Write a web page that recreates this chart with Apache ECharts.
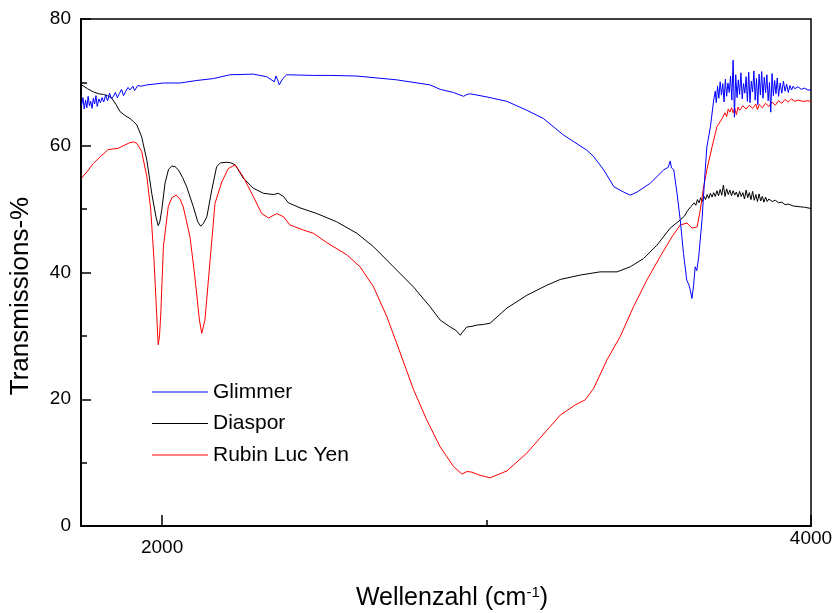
<!DOCTYPE html>
<html>
<head>
<meta charset="utf-8">
<script src="https://cdn.jsdelivr.net/npm/echarts@6/dist/echarts.min.js"></script>
<style>
html,body{margin:0;padding:0;background:#fff;}
#chart{width:834px;height:613px;}
</style>
</head>
<body>
<div id="chart"></div>
<script>
// ---- Data (wavenumber in cm^-1, transmission in %) ----
const xTickLabels = [2000, 4000];
const xMinorTicks = [3000];

const diasporX = [1752,1770,1788,1805,1819,1832,1845,1858,1870,1885,1901,1912,1922,1937,1953,1968,1981,1988,1993,1999,2009,2020,2030,2040,2050,2063,2076,2096,2110,2119,2128,2138,2153,2168,2180,2199,2212,2225,2250,2281,2312,2343,2358,2374,2389,2425,2477,2538,2600,2651,2713,2775,2826,2857,2888,2905,2919,2926,2939,2955,2970,2990,3011,3063,3124,3186,3227,3289,3350,3402,3443,3484,3525,3566,3597,3610,3620,3630,3640,3645,3650,3655,3660,3665,3670,3675,3680,3685,3690,3695,3700,3705,3710,3715,3720,3725,3730,3735,3740,3745,3750,3755,3760,3765,3770,3775,3780,3785,3790,3795,3800,3805,3810,3815,3820,3825,3830,3835,3840,3845,3850,3855,3860,3865,3870,3880,3890,3900,3910,3920,3930,3945,3960,3980,4000];
const diasporY = [69.6,69.0,68.5,68.2,68.1,67.9,67.5,66.5,65.4,64.8,64.3,63.8,63.3,61.4,57.7,52.5,48.8,47.4,48.0,49.9,54.1,56.3,56.8,56.7,56.2,55.0,53.5,50.4,48.0,47.3,47.8,48.8,53.0,56.7,57.3,57.4,57.3,57.0,54.9,53.3,52.5,52.3,52.5,52.0,51.0,50.2,49.3,48.0,46.2,44.1,40.9,37.7,34.6,32.5,31.4,30.9,30.1,30.6,31.4,31.5,31.7,31.8,32.0,34.4,36.4,38.0,38.9,39.6,40.1,40.1,40.9,42.2,44.3,47.0,48.3,48.9,49.8,50.4,51.0,50.6,51.5,51.0,51.8,51.2,52.0,51.5,52.3,51.7,52.5,51.9,52.6,52.0,52.9,52.1,53.1,52.2,53.8,52.0,53.2,52.3,53.0,52.1,52.9,52.2,52.7,51.9,52.8,52.0,52.6,51.6,53.0,51.8,52.6,51.5,52.8,51.4,52.3,51.2,52.4,51.3,52.0,51.1,51.9,51.2,51.6,51.2,51.4,51.0,51.1,50.7,50.8,50.5,50.4,50.3,50.1];

const rubinX = [1752,1770,1788,1810,1834,1850,1865,1880,1901,1912,1922,1937,1953,1965,1975,1983,1988,1992,1996,2004,2019,2030,2043,2055,2065,2086,2101,2115,2122,2132,2148,2163,2184,2204,2225,2250,2281,2307,2328,2353,2374,2394,2405,2435,2466,2508,2569,2610,2651,2693,2734,2775,2816,2857,2898,2924,2940,2955,2980,3011,3063,3124,3186,3227,3273,3304,3330,3371,3412,3453,3494,3535,3571,3597,3618,3633,3649,3659,3669,3679,3695,3710,3726,3735,3740,3745,3750,3755,3760,3765,3770,3775,3780,3790,3800,3810,3820,3830,3835,3840,3850,3860,3870,3880,3890,3900,3910,3920,3930,3940,3950,3960,3975,3990,4000];
const rubinY = [54.9,56.0,57.2,58.3,59.4,59.5,59.6,60.0,60.5,60.6,60.4,59.1,55.1,49.9,42.0,33.6,28.6,30.0,33.6,44.1,50.4,51.8,52.2,51.6,50.4,45.6,39.3,32.5,30.4,32.5,42.0,50.9,54.3,56.4,57.0,55.1,52.0,49.3,48.6,49.3,48.8,47.5,47.3,46.7,46.2,44.7,42.8,40.9,37.8,33.0,27.3,21.5,16.7,12.5,9.4,8.2,8.6,8.5,8.0,7.6,8.7,11.5,15.1,17.5,19.1,19.9,21.7,26.2,29.9,34.6,38.8,42.5,45.6,47.5,47.8,47.0,47.2,49.9,53.5,56.2,59.8,63.0,64.3,65.2,64.6,65.8,65.3,66.0,65.2,65.9,64.9,66.1,65.6,66.3,65.8,66.4,65.9,66.6,65.7,66.5,66.0,66.7,66.2,66.9,66.4,67.1,66.7,67.3,66.9,67.4,67.0,67.2,67.0,67.1,67.0];

const glimmerX = [1752,1756,1760,1764,1768,1772,1776,1780,1784,1788,1792,1796,1800,1805,1810,1815,1820,1826,1832,1838,1844,1850,1856,1862,1868,1875,1881,1888,1895,1901,1910,1915,1925,1935,1953,2004,2055,2107,2158,2209,2281,2322,2346,2351,2356,2361,2372,2384,2466,2518,2600,2723,2826,2857,2898,2929,2940,2950,3001,3063,3124,3175,3237,3309,3330,3361,3393,3422,3443,3464,3505,3546,3560,3566,3570,3577,3587,3597,3607,3617,3624,3628,3633,3638,3643,3648,3654,3664,3674,3679,3690,3700,3705,3708,3712,3716,3720,3724,3728,3732,3736,3740,3744,3748,3752,3756,3760,3764,3768,3772,3776,3780,3784,3788,3792,3796,3800,3804,3808,3812,3816,3820,3824,3828,3832,3836,3840,3844,3848,3852,3856,3860,3864,3868,3872,3876,3880,3884,3888,3892,3896,3900,3905,3910,3915,3920,3925,3930,3935,3940,3945,3950,3960,3970,3980,3990,4000];
const glimmerY = [66.4,67.6,65.8,67.2,66.0,67.8,66.3,67.0,65.9,67.5,66.6,67.9,66.2,67.4,66.8,67.6,66.9,68.0,67.1,68.3,67.4,67.8,68.4,67.6,68.2,68.9,67.9,68.6,69.2,68.8,69.4,68.7,69.5,69.4,69.6,69.9,69.9,70.3,70.6,71.2,71.3,70.9,70.1,71.0,70.4,69.6,70.6,71.2,71.1,71.1,71.0,70.4,69.6,68.9,68.4,67.8,68.1,68.2,67.7,67.0,65.6,64.3,61.7,59.3,58.3,56.2,53.5,52.7,52.2,52.7,54.1,56.2,56.6,57.6,56.5,56.2,52.5,48.3,43.0,38.8,38.0,37.2,35.9,37.9,40.9,40.3,42.5,48.3,56.2,59.8,63.0,67.2,68.6,66.8,69.4,67.5,70.1,68.0,69.8,66.9,70.5,67.8,69.9,68.4,71.0,67.2,73.5,64.5,71.2,67.6,70.4,68.1,71.5,67.4,69.8,68.3,70.9,67.0,71.6,66.8,70.2,68.5,71.8,67.2,70.6,66.5,71.3,68.0,71.7,67.5,70.8,68.4,71.2,67.1,70.0,65.3,71.4,67.9,70.3,68.2,70.7,67.8,69.9,68.3,70.2,68.6,69.7,68.4,69.5,68.8,69.4,69.0,69.3,68.9,69.1,68.8,68.8];

const seriesNames = ['Glimmer', 'Diaspor', 'Rubin Luc Yen'];

function zip(xs, ys) { return xs.map((x, i) => [x, ys[i]]); }

const FONT = "'Liberation Sans', Arial, sans-serif";
const chart = echarts.init(document.getElementById('chart'), null, { renderer: 'canvas' });

const option = {
  animation: false,
  backgroundColor: '#fff',
  grid: {
    left: 81, right: 23, top: 19, bottom: 87,
    show: true, borderColor: '#000', borderWidth: 1.5,
    containLabel: false, outerBoundsMode: 'none'
  },
  legend: {
    orient: 'vertical',
    left: 152, top: 381,
    padding: 0,
    icon: 'rect',
    itemWidth: 56, itemHeight: 1, itemGap: 9.5,
    data: seriesNames,
    textStyle: { fontFamily: FONT, fontSize: 21, color: '#000', lineHeight: 22 }
  },
  xAxis: [
    {
      type: 'value', min: 1750, max: 4000, position: 'bottom',
      axisLine: { show: true, lineStyle: { color: '#000', width: 2 } },
      axisTick: { show: true, inside: true, length: 11, customValues: xTickLabels, lineStyle: { color: '#000', width: 1.5 } },
      axisLabel: {
        show: true, customValues: xTickLabels, margin: 3,
        fontFamily: FONT, fontSize: 19, color: '#000',
        formatter: function (v) { return v === 4000 ? '{b|' + v + '}' : '{a|' + v + '}'; },
        rich: {
          a: { fontFamily: FONT, fontSize: 19, color: '#000', padding: [9, 0, 0, 0] },
          b: { fontFamily: FONT, fontSize: 19, color: '#000' }
        }
      },
      splitLine: { show: false }
    },
    {
      type: 'value', min: 1750, max: 4000, position: 'bottom', offset: 0,
      axisLine: { show: false },
      axisTick: { show: true, inside: true, length: 6, customValues: xMinorTicks, lineStyle: { color: '#000', width: 1.5 } },
      axisLabel: { show: false },
      splitLine: { show: false }
    }
  ],
  yAxis: {
    type: 'value', min: 0, max: 80, interval: 20,
    axisLine: { show: true, lineStyle: { color: '#000', width: 2 } },
    axisTick: { show: true, inside: true, length: 10, lineStyle: { color: '#000', width: 1.5 } },
    minorTick: { show: true, splitNumber: 2, length: 6, lineStyle: { color: '#000', width: 1.5 } },
    axisLabel: { fontFamily: FONT, fontSize: 19, color: '#000', margin: 10 },
    splitLine: { show: false }
  },
  graphic: [
    {
      type: 'text', x: 21, y: 296, rotation: Math.PI / 2,
      style: { text: 'Transmissions-%', fontFamily: FONT, fontSize: 26, fill: '#000', align: 'center', verticalAlign: 'middle' }
    },
    {
      type: 'text', x: 452, y: 598,
      style: {
        text: '{a|Wellenzahl (cm}{s|-1}{a|)}',
        align: 'center', verticalAlign: 'middle', fill: '#000',
        fontFamily: FONT, fontSize: 25,
        rich: {
          a: { fontFamily: FONT, fontSize: 25, fill: '#000' },
          s: { fontFamily: FONT, fontSize: 15, fill: '#000', verticalAlign: 'top' }
        }
      }
    }
  ],
  series: [
    { name: 'Diaspor', type: 'line', xAxisIndex: 0, symbol: 'none', color: '#000000', lineStyle: { width: 1, color: '#000000' }, data: zip(diasporX, diasporY) },
    { name: 'Rubin Luc Yen', type: 'line', xAxisIndex: 0, symbol: 'none', color: '#ff0000', lineStyle: { width: 1, color: '#ff0000' }, data: zip(rubinX, rubinY) },
    { name: 'Glimmer', type: 'line', xAxisIndex: 0, symbol: 'none', color: '#0000ff', lineStyle: { width: 1, color: '#0000ff' }, data: zip(glimmerX, glimmerY) }
  ]
};
chart.setOption(option);
</script>
</body>
</html>
